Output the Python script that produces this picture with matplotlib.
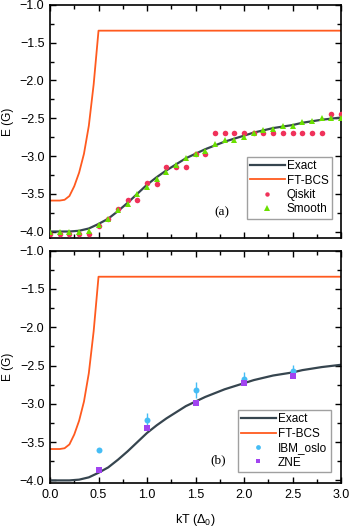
import matplotlib
matplotlib.use('Agg')
import matplotlib.pyplot as plt
from matplotlib.ticker import MultipleLocator
from matplotlib.lines import Line2D

plt.rcParams['font.family'] = ['Liberation Sans', 'DejaVu Sans']
plt.rcParams['mathtext.fontset'] = 'custom'
plt.rcParams['mathtext.rm'] = 'Liberation Sans'
plt.rcParams['mathtext.it'] = 'Liberation Sans:italic'

# temperature grid (units of Delta_0)
kt = [0.0, 0.1, 0.2, 0.3, 0.4, 0.5, 0.6, 0.7, 0.8, 0.9, 1.0,
      1.1, 1.2, 1.3, 1.4, 1.5, 1.6, 1.7, 1.8, 1.9, 2.0,
      2.1, 2.2, 2.3, 2.4, 2.5, 2.6, 2.7, 2.8, 2.9, 3.0]
exact = [-4.00, -4.00, -4.00, -3.99, -3.96, -3.90, -3.83, -3.73, -3.62, -3.50, -3.38,
         -3.28, -3.19, -3.11, -3.03, -2.97, -2.91, -2.86, -2.81, -2.77, -2.73,
         -2.69, -2.66, -2.63, -2.61, -2.59, -2.56, -2.54, -2.52, -2.505, -2.49]
smooth = [-4.01, -4.00, -4.00, -4.00, -3.99, -3.92, -3.84, -3.71, -3.63, -3.50, -3.41,
          -3.30, -3.21, -3.12, -3.02, -2.98, -2.93, -2.84, -2.79, -2.79, -2.75,
          -2.69, -2.65, -2.64, -2.60, -2.60, -2.55, -2.54, -2.50, -2.50, -2.50]
qiskit = [-4.03, -4.03, -4.03, -4.03, -4.03, -3.93, -3.83, -3.70, -3.58, -3.58, -3.36,
          -3.37, -3.15, -3.15, -3.15, -2.97, -2.97, -2.70, -2.70, -2.70, -2.70,
          -2.70, -2.70, -2.70, -2.70, -2.70, -2.70, -2.70, -2.70, -2.44, -2.44]

bcs_kt = [0.0, 0.1, 0.15, 0.2, 0.25, 0.3, 0.35, 0.4, 0.45, 0.5, 3.0]
bcs = [-3.59, -3.59, -3.58, -3.53, -3.40, -3.22, -2.97, -2.60, -2.05, -1.34, -1.34]

hw_kt = [0.5, 1.0, 1.5, 2.0, 2.5]
ibm = [-3.60, -3.21, -2.82, -2.67, -2.57]
ibm_err = [0.02, 0.09, 0.11, 0.09, 0.08]
zne = [-3.86, -3.31, -2.99, -2.73, -2.63]

C_EXACT = '#36454f'
C_BCS = '#ff5a1f'
C_QIS = '#f0325a'
C_SMO = '#6ae000'
C_IBM = '#45bdf5'
C_ZNE = '#a144f0'

fig = plt.figure(figsize=(3.49, 5.31), dpi=100)
ax1 = fig.add_axes([0.1433, 0.5512, 0.834, 0.4394])
ax2 = fig.add_axes([0.1433, 0.0895, 0.834, 0.4384])

leg_kw = dict(loc='upper left', borderaxespad=0, fontsize=8.5, handlelength=2.9,
              handletextpad=0.2, labelspacing=0.2, borderpad=0.3, markerscale=0.8,
              fancybox=False, framealpha=1, edgecolor='#a0a0a0')

def style(ax, ylo):
    ax.set_xlim(0, 3.0)
    ax.set_ylim(ylo, -1.0)
    ax.xaxis.set_major_locator(MultipleLocator(0.5))
    ax.xaxis.set_minor_locator(MultipleLocator(0.25))
    ax.yaxis.set_major_locator(MultipleLocator(0.5))
    ax.yaxis.set_minor_locator(MultipleLocator(0.25))
    ax.tick_params(which='both', direction='in', top=True, right=True,
                   labelsize=9, width=1.0, pad=4)
    ax.tick_params(which='major', length=4)
    ax.tick_params(which='minor', length=3)
    for s in ax.spines.values():
        s.set_linewidth(1.2)
    ax.set_ylabel('E (G)', fontsize=8.5)
    ax.yaxis.set_label_coords(-0.125, 0.5)

# (a) simulator
ax1.plot(kt, exact, color=C_EXACT, lw=1.6, label='Exact', zorder=2)
ax1.plot(bcs_kt, bcs, color=C_BCS, lw=1.3, label='FT-BCS', zorder=2)
ax1.plot(kt, qiskit, 'o', color=C_QIS, ms=4, mew=0, label='Qiskit', zorder=3)
ax1.plot(kt, smooth, '^', color=C_SMO, ms=4.8, mew=0, label='Smooth', zorder=4)
style(ax1, -4.09)
ax1.tick_params(labelbottom=False)
ax1.text(0.59, 0.113, '(a)', transform=ax1.transAxes, ha='center', va='center',
         fontsize=9.5, family=['Liberation Serif', 'DejaVu Serif'])
ax1.legend(bbox_to_anchor=(0.676, 0.350), **leg_kw)

# (b) hardware
l_ex, = ax2.plot(kt, exact, color=C_EXACT, lw=1.6, zorder=2)
l_bcs, = ax2.plot(bcs_kt, bcs, color=C_BCS, lw=1.3, zorder=2)
ax2.errorbar(hw_kt, ibm, yerr=ibm_err, fmt='o', color=C_IBM, ms=4.3, mew=0,
             elinewidth=1.0, capsize=2.5, capthick=1.0, zorder=3)
l_zne, = ax2.plot(hw_kt, zne, 's', color=C_ZNE, ms=3.8, mew=0, zorder=4)
h_ibm = Line2D([], [], ls='none', marker='o', color=C_IBM, ms=4.3, mew=0)
style(ax2, -4.04)
ax2.set_xlabel(r'kT ($\mathregular{\Delta_0}$)', fontsize=9, labelpad=8)
ax2.text(0.577, 0.098, '(b)', transform=ax2.transAxes, ha='center', va='center',
         fontsize=9.5, family=['Liberation Serif', 'DejaVu Serif'])
ax2.legend([l_ex, l_bcs, h_ibm, l_zne], ['Exact', 'FT-BCS', 'IBM_oslo', 'ZNE'],
           bbox_to_anchor=(0.645, 0.316), **leg_kw)

fig.savefig('out.png', dpi=100)
